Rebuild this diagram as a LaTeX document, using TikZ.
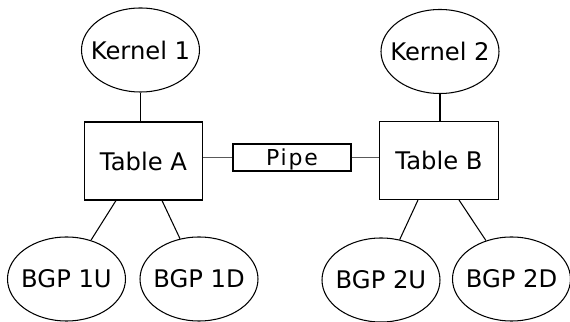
\documentclass[tikz,border=0pt]{standalone}
\usepackage{fontspec}
\setsansfont{DejaVu Sans}
\newfontfamily\pipefont[LetterSpace=8]{DejaVu Sans}
\usetikzlibrary{shapes, calc}

\begin{document}
\begin{tikzpicture}

% Sans-serif text
\sffamily

% Node and line styles
\tikzset{tblS/.style={draw, line width = 0.6pt, shape = rectangle, minimum width = 2.37cm, minimum height = 1.56cm, font = \fontsize{13.8}{16}\selectfont}}
\tikzset{elS/.style={draw, line width = 0.6pt, shape = ellipse, inner ysep = 0pt, inner xsep = -6pt, minimum width = 2.36cm, minimum height = 1.68cm, font = \fontsize{13.8}{16}\selectfont}}
\tikzset{pS/.style={draw, line width = 0.6pt, shape = rectangle, inner sep = 0pt, text depth = 0pt, minimum width = 2.36cm, minimum height = 0.54cm, font = \pipefont\fontsize{12.5}{14}\selectfont}}
\tikzset{lnA/.style={black, line width = 0.6pt}}
\tikzset{lnP/.style={black!65, line width = 0.9pt}}

\useasboundingbox (0,0) rectangle (11.4,6.44);

% Table nodes
\node (tA) [tblS] at (2.87, 3.22) {Table A};
\node (tB) [tblS] at (8.78, 3.23) {Table B};
\node (pipe) [pS] at (5.84, 3.29) {Pipe};

% Kernel nodes
\node (k1) [elS] at ($ (tA) + (-0.06, 2.22) $) {Kernel 1};
\node (k2) [elS] at ($ (tB) + (0.02, 2.18) $) {Kernel 2};

% BGP nodes
\node (b1u) [elS] at ($ (tA) + (-1.54, -2.36) $) {BGP 1U};
\node (b1d) [elS] at ($ (tA) + (1.11, -2.36) $) {BGP 1D};
\node (b2u) [elS] at ($ (tB) + (-1.16, -2.39) $) {BGP 2U};
\node (b2d) [elS] at ($ (tB) + (1.45, -2.37) $) {BGP 2D};

% Edges
\draw[lnA] (k1) -- (k1 |- tA.north);
\draw[lnA] (k2) -- (k2 |- tB.north);

\draw[lnP] (pipe.west -| tA.east) -- (pipe.west);
\draw[lnP] (pipe.east) -- (pipe.east -| tB.west);

\draw[lnA] ($ (tA.south) + (-0.55, 0) $) -- (b1u);
\draw[lnA] ($ (tA.south) + (0.37, 0) $) -- (b1d);
\draw[lnA] ($ (tB.south) + (-0.42, 0) $) -- (b2u);
\draw[lnA] ($ (tB.south) + (0.40, 0) $) -- (b2d);

\end{tikzpicture}
\end{document}
